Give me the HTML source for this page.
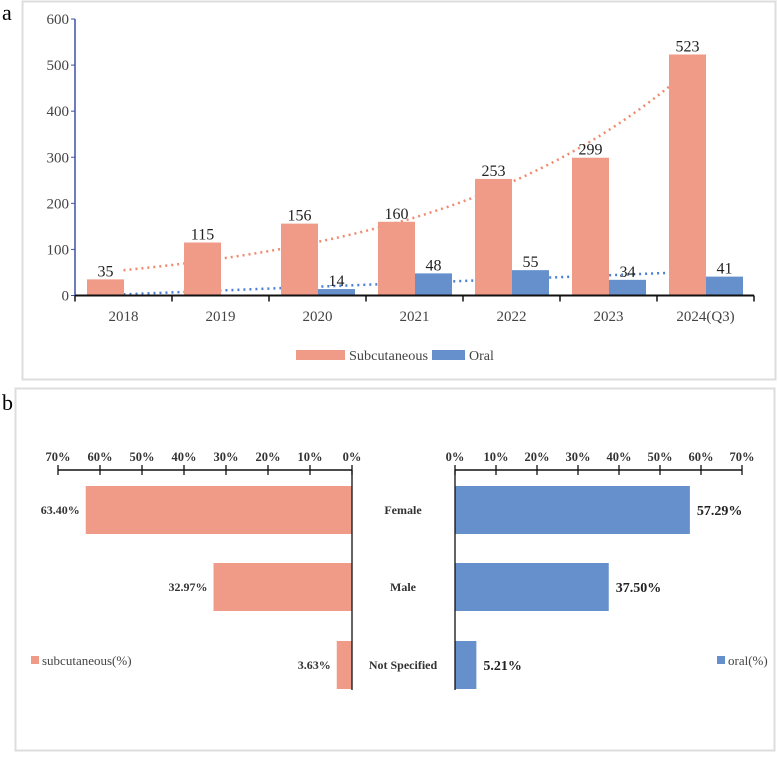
<!DOCTYPE html>
<html><head><meta charset="utf-8"><style>
body{margin:0;background:#fff;width:778px;height:757px;overflow:hidden;font-family:"Liberation Serif",serif}
svg{position:absolute;left:0;top:0}
</style></head><body>
<svg id="s" width="778" height="757">
<text x="2" y="20" font-size="22" fill="#000">a</text>
<rect x="22.5" y="1.5" width="753" height="378" fill="none" stroke="#ddd" stroke-width="2"/>
<text x="2" y="410" font-size="22" fill="#000">b</text>
<rect x="15.5" y="388.5" width="759" height="362" fill="none" stroke="#ddd" stroke-width="2"/>
<g id="a"></g><g id="b"></g>
</svg>
<script>
const years=["2018","2019","2020","2021","2022","2023","2024(Q3)"];
const subc=[35,115,156,160,253,299,523];
const oral=[0,0,14,48,55,34,41];
const yTicks=[0,100,200,300,400,500,600];
const groups=["Female","Male","Not Specified"];
const subPct=[63.40,32.97,3.63];
const oralPct=[57.29,37.50,5.21];
const pctTicks=[0,10,20,30,40,50,60,70];

const NS="http://www.w3.org/2000/svg";
function mk(p,t,a,txt){const e=document.createElementNS(NS,t);for(const k in a)e.setAttribute(k,a[k]);if(txt!==undefined)e.textContent=txt;p.appendChild(e);return e;}
const SUB="#f09b87",ORAL="#6590cc";
const A=document.getElementById('a');
const x0=75,cw=97,y0=295.5,yTop=19;
const ya=v=>y0-(v/600)*(y0-yTop);
const xc=i=>x0+cw*i;
let e=mk(A,'line',{x1:x0,y1:yTop,x2:x0,y2:y0,stroke:'#3a52a8','stroke-width':1.5});

yTicks.forEach(t=>{
 let l=mk(A,'line',{x1:x0-4,y1:ya(t),x2:x0,y2:ya(t),stroke:'#3a52a8'});
 
 let tx=mk(A,'text',{x:x0-6,y:ya(t)+5,'text-anchor':'end','font-size':15,fill:'#444'},t);
 
});
const n=years.length;const xs=years.map((_,i)=>i+1);const mx=(n+1)/2;
function fit(ys){const my=ys.reduce((a,b)=>a+b,0)/n;let num=0,den=0;xs.forEach((x,i)=>{num+=(x-mx)*(ys[i]-my);den+=(x-mx)**2});const b=num/den;return [my-b*mx,b];}
const [ea,eb]=fit(subc.map(Math.log));
const [la,lb]=fit(oral);
let p1='',p2='';
for(let k=0;k<=60;k++){const t=1+6*k/60;const px=xc(t-1)+cw/2;p1+=(k?'L':'M')+px+','+ya(Math.exp(ea+eb*t));p2+=(k?'L':'M')+px+','+ya(la+lb*t);}
e=mk(A,'path',{d:p1,fill:'none',stroke:'#f08a6e','stroke-width':2.5,'stroke-dasharray':'2 4'});

e=mk(A,'path',{d:p2,fill:'none',stroke:'#4a7fd6','stroke-width':2.5,'stroke-dasharray':'2 4'});

years.forEach((y,i)=>{
 const bx=xc(i)+12;
 let r=mk(A,'rect',{x:bx,y:ya(subc[i]),width:37,height:y0-ya(subc[i]),fill:SUB});
 
 let t=mk(A,'text',{x:bx+18.5,y:ya(subc[i])-3,'text-anchor':'middle','font-size':16,fill:'#222'},subc[i]);
 
 if(oral[i]>0){
  r=mk(A,'rect',{x:bx+37,y:ya(oral[i]),width:37,height:y0-ya(oral[i]),fill:ORAL});
  
  t=mk(A,'text',{x:bx+55.5,y:ya(oral[i])-3,'text-anchor':'middle','font-size':16,fill:'#222'},oral[i]);
  
 }
 let tk=mk(A,'line',{x1:xc(i),y1:y0,x2:xc(i),y2:y0+6,stroke:'#111','stroke-width':1.5});
 
 t=mk(A,'text',{x:xc(i)+cw/2,y:321,'text-anchor':'middle','font-size':15,fill:'#444'},y);
 
});
e=mk(A,'line',{x1:xc(n),y1:y0,x2:xc(n),y2:y0+6,stroke:'#111','stroke-width':1.5});

e=mk(A,'line',{x1:x0,y1:y0,x2:xc(n),y2:y0,stroke:'#111','stroke-width':2});

e=mk(A,'rect',{x:296,y:350,width:49,height:10,fill:SUB});
e=mk(A,'text',{x:349,y:360,'font-size':14,fill:'#444',textLength:79,lengthAdjust:'spacingAndGlyphs'},'Subcutaneous');
e=mk(A,'rect',{x:432,y:350,width:33,height:10,fill:ORAL});
e=mk(A,'text',{x:469,y:360,'font-size':14,fill:'#444'},'Oral');
const B=document.getElementById('b');
const L0=352,Lsc=4.2,R0=455,Rsc=4.1,ay=470;
const xl=v=>L0-v*Lsc,xr=v=>R0+v*Rsc;
const barY=[486,563,641],bh=48;
e=mk(B,'line',{x1:xl(70),y1:ay,x2:L0,y2:ay,stroke:'#111','stroke-width':1.5});
e=mk(B,'line',{x1:R0,y1:ay,x2:xr(70),y2:ay,stroke:'#111','stroke-width':1.5});
pctTicks.forEach(t=>{
 let l=mk(B,'line',{x1:xl(t),y1:ay-5,x2:xl(t),y2:ay+5,stroke:'#111','stroke-width':1.3});
 let tx=mk(B,'text',{x:xl(t),y:ay-9,'text-anchor':'middle','font-size':12.5,'font-weight':'bold',fill:'#333'},t+'%');
 l=mk(B,'line',{x1:xr(t),y1:ay-5,x2:xr(t),y2:ay+5,stroke:'#111','stroke-width':1.3});
 tx=mk(B,'text',{x:xr(t),y:ay-9,'text-anchor':'middle','font-size':12.5,'font-weight':'bold',fill:'#333'},t+'%');
});
groups.forEach((g,i)=>{
 let r=mk(B,'rect',{x:xl(subPct[i]),y:barY[i],width:subPct[i]*Lsc,height:bh,fill:SUB});
 let t=mk(B,'text',{x:xl(subPct[i])-6,y:barY[i]+bh/2+4,'text-anchor':'end','font-size':12,'font-weight':'bold',fill:'#333'},subPct[i].toFixed(2)+'%');
 r=mk(B,'rect',{x:R0,y:barY[i],width:oralPct[i]*Rsc,height:bh,fill:ORAL});
 t=mk(B,'text',{x:xr(oralPct[i])+7,y:barY[i]+bh/2+5,'font-size':14,'font-weight':'bold',fill:'#222'},oralPct[i].toFixed(2)+'%');
 t=mk(B,'text',{x:403,y:barY[i]+bh/2+4,'text-anchor':'middle','font-size':12,'font-weight':'bold',fill:'#333'},g);
});
e=mk(B,'line',{x1:L0,y1:ay,x2:L0,y2:690,stroke:'#111','stroke-width':1.3});
e=mk(B,'line',{x1:R0,y1:ay,x2:R0,y2:690,stroke:'#111','stroke-width':1.3});
e=mk(B,'rect',{x:31,y:656,width:8,height:8,fill:SUB});
e=mk(B,'text',{x:42,y:665,'font-size':13,fill:'#444'},'subcutaneous(%)');
e=mk(B,'rect',{x:717,y:656,width:8,height:8,fill:ORAL});
e=mk(B,'text',{x:728,y:665,'font-size':13,fill:'#444'},'oral(%)');
</script>
</body></html>
